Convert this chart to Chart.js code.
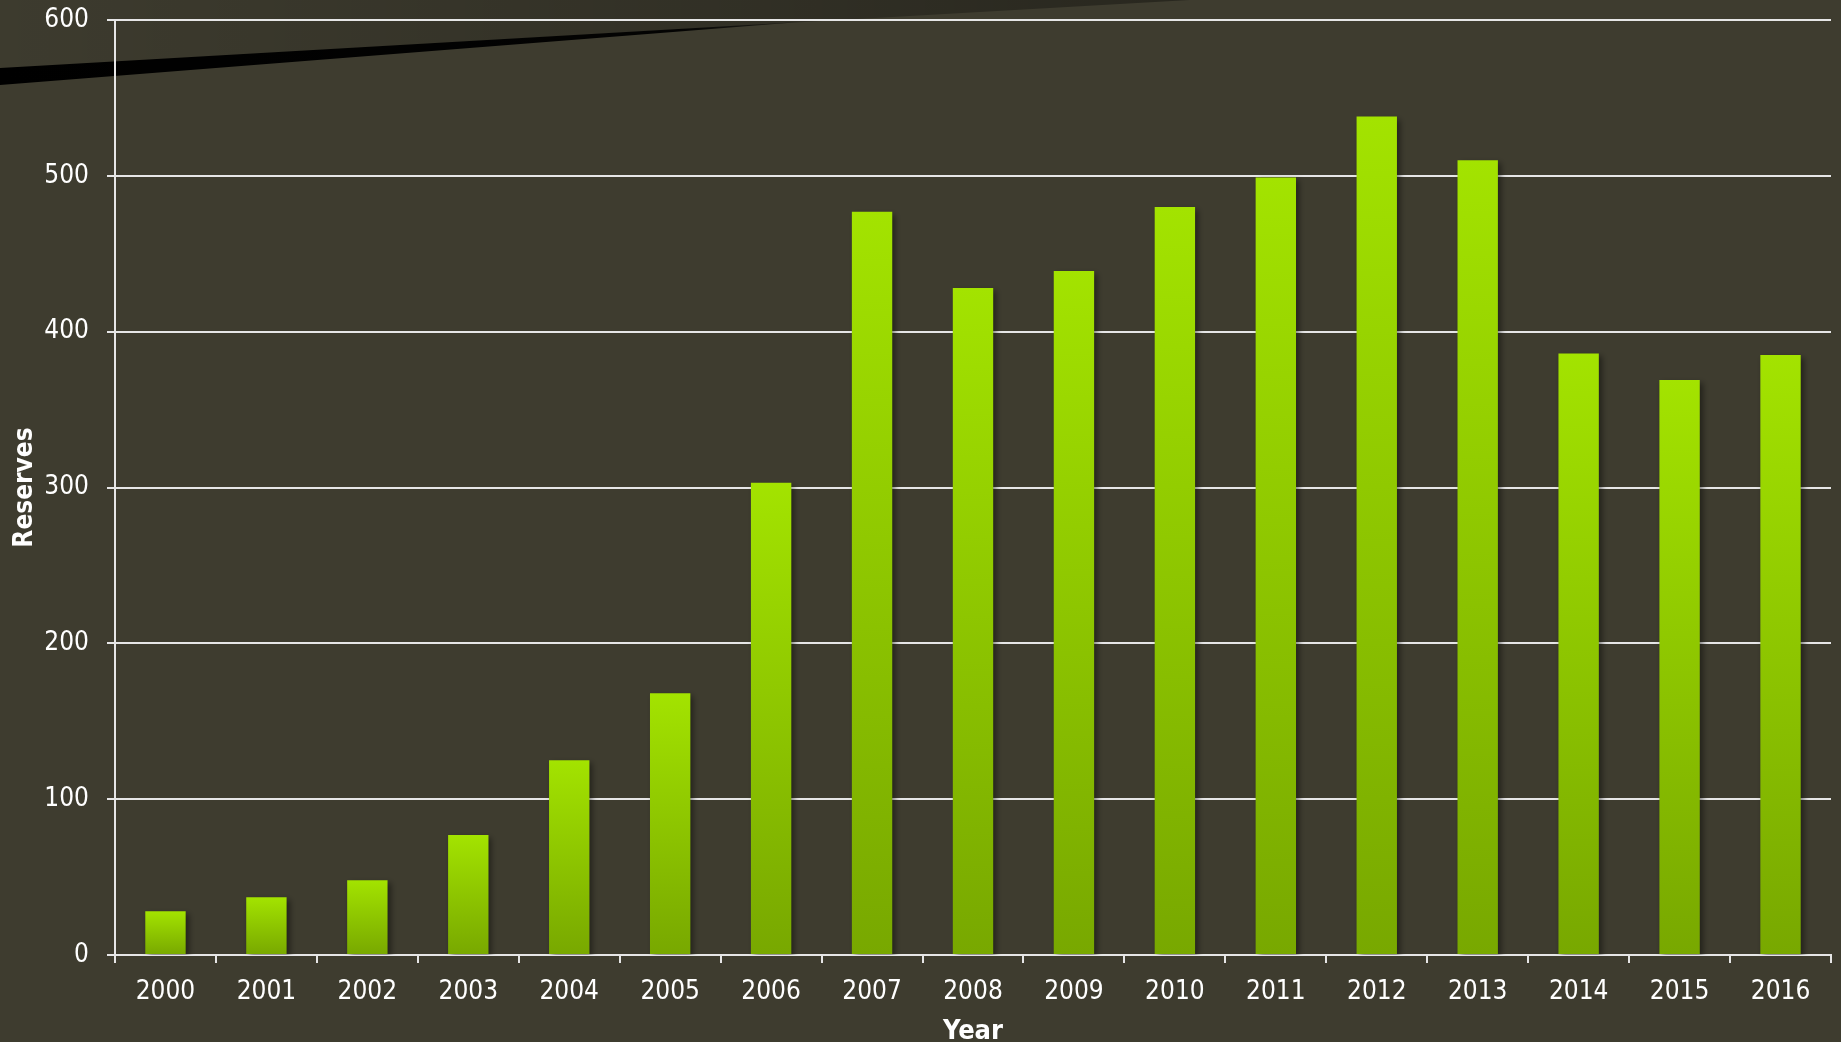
<!DOCTYPE html>
<html>
<head>
<meta charset="utf-8">
<script src="https://cdn.jsdelivr.net/npm/chart.js@4.4.1/dist/chart.umd.min.js"></script>
<style>
    html, body { margin: 0; padding: 0; background: #3e3c2f; overflow: hidden; }
    #wrap { width: 1841px; height: 1042px; position: relative; }
</style>
</head>
<body>
<div id="wrap"><canvas id="reservesChart"></canvas></div>
<script>
const years = ['2000', '2001', '2002', '2003', '2004', '2005', '2006', '2007', '2008',
    '2009', '2010', '2011', '2012', '2013', '2014', '2015', '2016'];
const reserves = [28, 37, 48, 77, 125, 168, 303, 477, 428, 439, 480, 499, 538, 510, 386, 369, 385];
const yTicks = [0, 100, 200, 300, 400, 500, 600];

const FONT = "'DejaVu Sans Condensed', 'DejaVu Sans', sans-serif";

// theme decoration in the top-left corner + background
const backdrop = {
    id: 'backdrop',
    beforeDraw(chart) {
        const ctx = chart.ctx;
        ctx.save();
        ctx.fillStyle = '#3e3c2f';
        ctx.fillRect(0, 0, chart.width, chart.height);

        let g = ctx.createLinearGradient(0, 0, 1190, 0);
        g.addColorStop(0, 'rgba(0,0,0,0.02)');
        g.addColorStop(0.6, 'rgba(0,0,0,0.2)');
        g.addColorStop(1, 'rgba(0,0,0,0.35)');
        ctx.fillStyle = g;
        ctx.beginPath();
        ctx.moveTo(0, 0);
        ctx.lineTo(1190, 0);
        ctx.lineTo(0, 68);
        ctx.closePath();
        ctx.fill();

        g = ctx.createLinearGradient(0, 0, 800, 0);
        g.addColorStop(0, 'rgba(0,0,0,1)');
        g.addColorStop(0.85, 'rgba(0,0,0,0.95)');
        g.addColorStop(1, 'rgba(0,0,0,0.4)');
        ctx.fillStyle = g;
        ctx.beginPath();
        ctx.moveTo(0, 68);
        ctx.lineTo(800, 22);
        ctx.lineTo(0, 85);
        ctx.closePath();
        ctx.fill();
        ctx.restore();
    },
    beforeDatasetsDraw(chart) {
        const ctx = chart.ctx;
        ctx.save();
        ctx.shadowColor = 'rgba(0,0,0,0.45)';
        ctx.shadowBlur = 6;
        ctx.shadowOffsetX = 3;
        ctx.shadowOffsetY = 3;
    },
    afterDatasetsDraw(chart) {
        chart.ctx.restore();
    }
};

function barGradient(context) {
    const chart = context.chart;
    if (!chart.chartArea) return '#8fc400';
    const y = chart.scales.y;
    const v = context.raw;
    const top = y.getPixelForValue(v);
    const bottom = y.getPixelForValue(0);
    const g = chart.ctx.createLinearGradient(0, top, 0, bottom);
    g.addColorStop(0, '#a3e300');
    g.addColorStop(1, '#78a800');
    return g;
}

new Chart(document.getElementById('reservesChart'), {
    type: 'bar',
    data: {
        labels: years,
        datasets: [{
            label: 'Reserves',
            data: reserves,
            backgroundColor: barGradient,
            borderWidth: 0,
            barPercentage: 0.4,
            categoryPercentage: 1.0
        }]
    },
    options: {
        responsive: true,
        maintainAspectRatio: false,
        animation: false,
        layout: { padding: { top: 20, right: 10, left: 0, bottom: 0 } },
        plugins: {
            legend: { display: false },
            tooltip: { enabled: false }
        },
        scales: {
            x: {
                grid: {
                    drawOnChartArea: false,
                    drawTicks: true,
                    tickLength: 8,
                    color: '#e6e6e6',
                    lineWidth: 2
                },
                border: { color: '#e6e6e6', width: 2 },
                ticks: {
                    color: '#ffffff',
                    font: { family: FONT, size: 26 },
                    padding: 14,
                    maxRotation: 0,
                    autoSkip: false
                },
                title: {
                    display: true,
                    text: 'Year',
                    color: '#ffffff',
                    font: { family: FONT, size: 27, weight: 'bold' },
                    padding: { top: 4, bottom: -6 }
                },
                afterFit(scale) {
                    scale.height = 87;
                    scale.paddingLeft = 0;
                    scale.paddingRight = 0;
                }
            },
            y: {
                min: 0,
                max: 600,
                afterBuildTicks(scale) {
                    scale.ticks = yTicks.map(v => ({ value: v }));
                },
                grid: {
                    drawTicks: true,
                    tickLength: 8,
                    color: '#e6e6e6',
                    lineWidth: 2
                },
                border: { color: '#e6e6e6', width: 2 },
                ticks: {
                    color: '#ffffff',
                    font: { family: FONT, size: 26 },
                    padding: 18
                },
                title: {
                    display: true,
                    text: 'Reserves',
                    color: '#ffffff',
                    font: { family: FONT, size: 26, weight: 'bold' },
                    padding: { top: 10, bottom: 0 }
                },
                afterFit(scale) {
                    scale.width = 115;
                    scale.paddingTop = 0;
                    scale.paddingBottom = 0;
                }
            }
        }
    },
    plugins: [backdrop]
});
</script>
</body>
</html>
